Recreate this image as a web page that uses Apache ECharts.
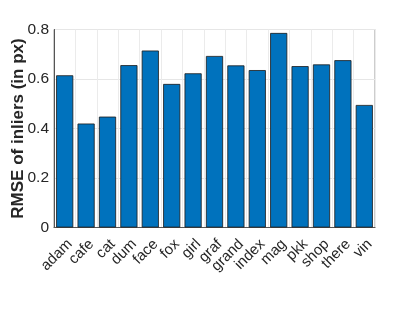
<!DOCTYPE html>
<html><head><meta charset="utf-8">
<script src="https://cdn.jsdelivr.net/npm/echarts@6/dist/echarts.min.js"></script>
<style>html,body{margin:0;padding:0;background:#fff}#c{width:415px;height:311px}</style>
</head><body><div id="c"></div>
<script>
const categories = ['adam','cafe','cat','dum','face','fox','girl','graf','grand','index','mag','pkk','shop','there','vin'];
const rmse = [0.615,0.420,0.448,0.656,0.715,0.580,0.623,0.693,0.655,0.636,0.786,0.652,0.659,0.676,0.495];
const yTicks = [0,0.2,0.4,0.6,0.8];
const font = 'Liberation Sans, Arial, Helvetica, sans-serif';
const chart = echarts.init(document.getElementById('c'), null, {renderer:'canvas'});
chart.setOption({
  animation:false,
  backgroundColor:'#fff',
  grid:{left:54,right:40,top:29.5,bottom:83.5,containLabel:false,outerBoundsMode:'none',show:true,borderColor:'#9a9a9a',borderWidth:1,backgroundColor:'transparent'},
  xAxis:{
    type:'category', data:categories, boundaryGap:true,
    axisLine:{show:true,lineStyle:{color:'#555',width:1}},
    axisTick:{show:true,inside:true,alignWithLabel:true,length:4,lineStyle:{color:'#555'}},
    splitLine:{show:true,interval:0,lineStyle:{color:'#ebebeb',width:1}},
    axisLabel:{interval:0,rotate:45,fontFamily:font,fontSize:15,color:'#262626',margin:9,verticalAlign:'top'}
  },
  yAxis:{
    type:'value', min:yTicks[0], max:yTicks[yTicks.length-1], interval:0.2,
    name:'RMSE of inliers (in px)', nameLocation:'middle', nameGap:27, nameMoveOverlap:false,
    nameTextStyle:{fontFamily:font,fontSize:17,fontWeight:'bold',color:'#262626'},
    axisLine:{show:true,lineStyle:{color:'#555',width:1}},
    axisTick:{show:false},
    splitLine:{show:true,lineStyle:{color:'#e6e6e6',width:1}},
    axisLabel:{fontFamily:font,fontSize:15.5,color:'#262626',margin:5,
      formatter:v=>v===0?'0':String(Math.round(v*10)/10)}
  },
  series:[{
    type:'bar', data:rmse, barCategoryGap:'20%',
    itemStyle:{color:'#0072BD',borderColor:'#1a1a1a',borderWidth:0.8}
  }]
});
</script></body></html>
